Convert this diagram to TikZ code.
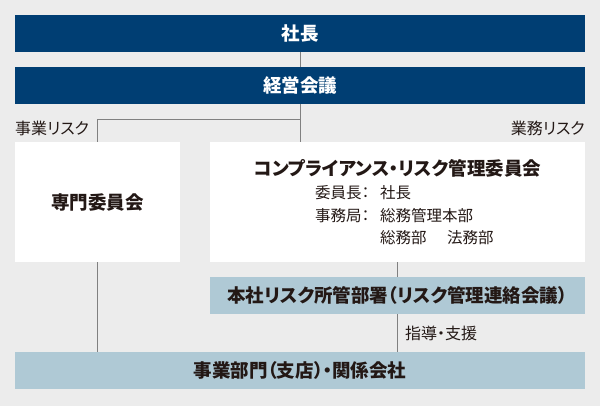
\documentclass[tikz,border=0pt]{standalone}
\usepackage{fontspec}
\setmainfont{Noto Sans CJK JP}[RawFeature=+palt]
\usepackage{tikz}

\definecolor{navy}{RGB}{0,62,115}
\definecolor{paleblue}{RGB}{175,201,213}
\definecolor{bggray}{RGB}{236,236,236}
\definecolor{linegray}{RGB}{128,128,128}
\definecolor{ink}{RGB}{35,24,21}

\begin{document}
\begin{tikzpicture}[x=1pt,y=-1pt,
	topbar/.style={fill=navy,text=white,font=\fontsize{18.5}{22}\selectfont\bfseries,
		minimum width=570pt,minimum height=37pt,inner sep=0pt},
	whitebox/.style={fill=white,text=ink,minimum height=120pt,inner sep=0pt},
	palebar/.style={fill=paleblue,text=ink,font=\fontsize{18.5}{22}\selectfont\bfseries,
		minimum height=37pt,inner sep=0pt},
	plain/.style={text=ink,font=\fontsize{15.5}{18}\selectfont,inner sep=0pt},
	side/.style={plain,font=\fontsize{16}{18}\selectfont},
	link/.style={draw=linegray,line width=1pt}]
	
	\fill[bggray] (0,0) rectangle (600,406);
	\useasboundingbox (0,0) rectangle (600,406);
	
	\node[topbar] (shacho) at (300,33.5) {社長};
	\node[topbar] (keiei) at (300,85.5) {経営会議};
	
	\node[whitebox,minimum width=165pt,font=\fontsize{18.5}{22}\selectfont\bfseries] (senmon) at (97.5,202) {専門委員会};
	\node[whitebox,minimum width=375pt] (comp) at (397.5,202) {};
	
	\node[palebar,minimum width=375pt] (honsha) at (397.5,295.5) {本社リスク所管部署（リスク管理連絡会議）};
	\node[palebar,minimum width=570pt] (jigyo) at (300,370.5) {事業部門（支店）・関係会社};
	
	% committee text
	\node[plain,font=\fontsize{18.5}{22}\selectfont\bfseries] (comptitle) at (397.5,168) {コンプライアンス・リスク管理委員会};
	\node[plain,anchor=west] (chair) at (315,193) {委員長：};
	\node[plain,anchor=west] (chairname) at (380,193) {社長};
	\node[plain,anchor=west] (office) at (315,215.5) {事務局：};
	\node[plain,anchor=west] (officeA) at (380,215.5) {総務管理本部};
	\node[plain,anchor=west] (officeB) at (380,238) {総務部};
	\node[plain,anchor=west] (officeC) at (447,238) {法務部};
	
	\coordinate (branch) at (300,120);
	\draw[link] (shacho.south) -- (keiei.north);
	\draw[link] (keiei.south) -- (keiei.south |- comp.north);
	\draw[link] (branch) -| (senmon.north);
	\draw[link] (senmon.south) -- (senmon.south |- jigyo.north);
	\draw[link] (comp.south) -- (honsha.north);
	\draw[link] (honsha.south) -- (honsha.south |- jigyo.north);
	
	\node[side,anchor=west] (bizrisk) at (15,128) {事業リスク};
	\node[side,anchor=east] (oprisk) at (585,128) {業務リスク};
	\node[side,anchor=west] (guide) at (405,333.5) {指導・支援};
	
\end{tikzpicture}
\end{document}
